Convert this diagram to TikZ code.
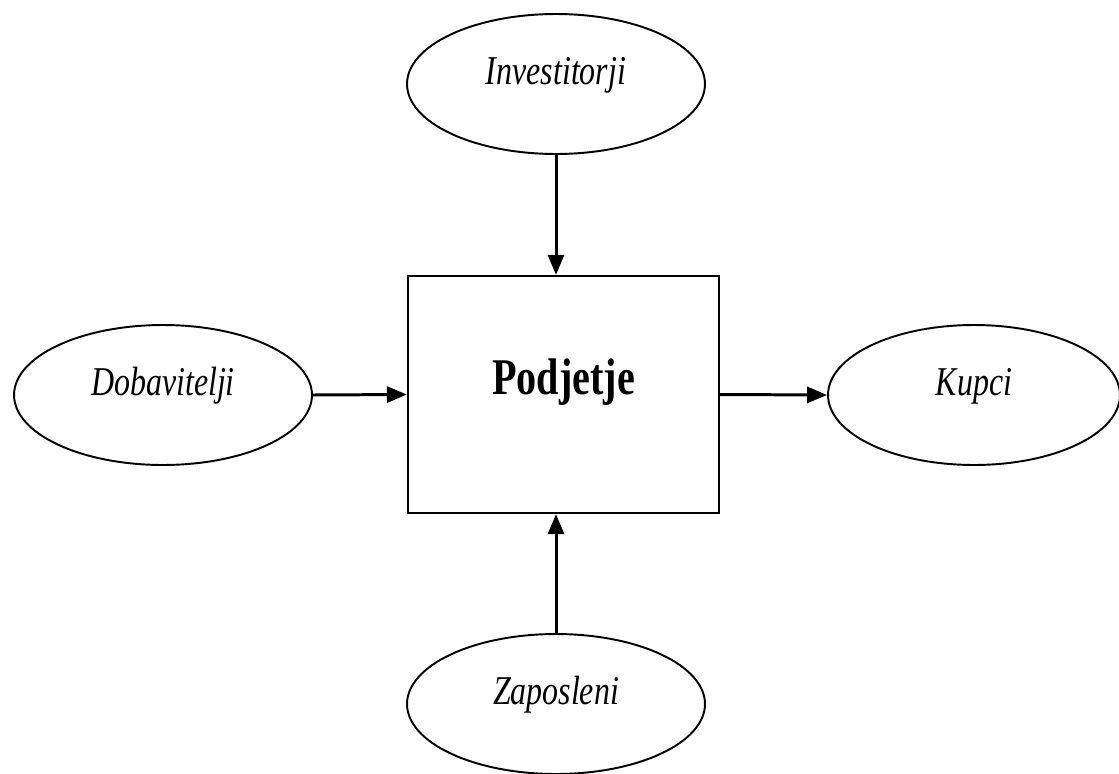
\documentclass[tikz,border=0pt]{standalone}
\usepackage{fontspec}
\usetikzlibrary{arrows.meta,shapes.geometric}
\newfontfamily\narrowtimes{Liberation Serif}[FakeStretch=0.78]

\begin{document}
\begin{tikzpicture}[x=0.02cm,y=-0.02cm,
    actor/.style={draw,ellipse,line width=1.1pt,
      minimum width=5.96cm,minimum height=2.8cm,
      text height=0.5cm,text depth=0.5cm,
      font=\narrowtimes\itshape\fontsize{23.3}{28}\selectfont},
    flow/.style={-{Triangle[length=0.4cm,width=0.32cm]},line width=1.7pt}]
    \useasboundingbox (0,0) rectangle (1119,774);
    \node[draw,line width=1.3pt,
          minimum width=6.22cm,minimum height=4.74cm,
          text height=0.6cm,text depth=0.6cm,
          font=\narrowtimes\bfseries\fontsize{29.3}{34}\selectfont]
          (firm) at (563.5,394.5) {Podjetje};
    \node[actor] (investors) at (556,84) {Investitorji};
    \node[actor] (suppliers) at (163,395) {Dobavitelji};
    \node[actor,minimum width=5.84cm] (customers) at (974,395) {Kupci};
    \node[actor] (staff) at (556,704) {Zaposleni};
    \draw[flow] (investors.south) -- (investors.south |- firm.north);
    \draw[flow] (staff.north) -- (staff.north |- firm.south);
    \draw[flow] (suppliers.east) -- (firm.west);
    \draw[flow] (firm.east) -- (customers.west);
  \end{tikzpicture}
\end{document}
